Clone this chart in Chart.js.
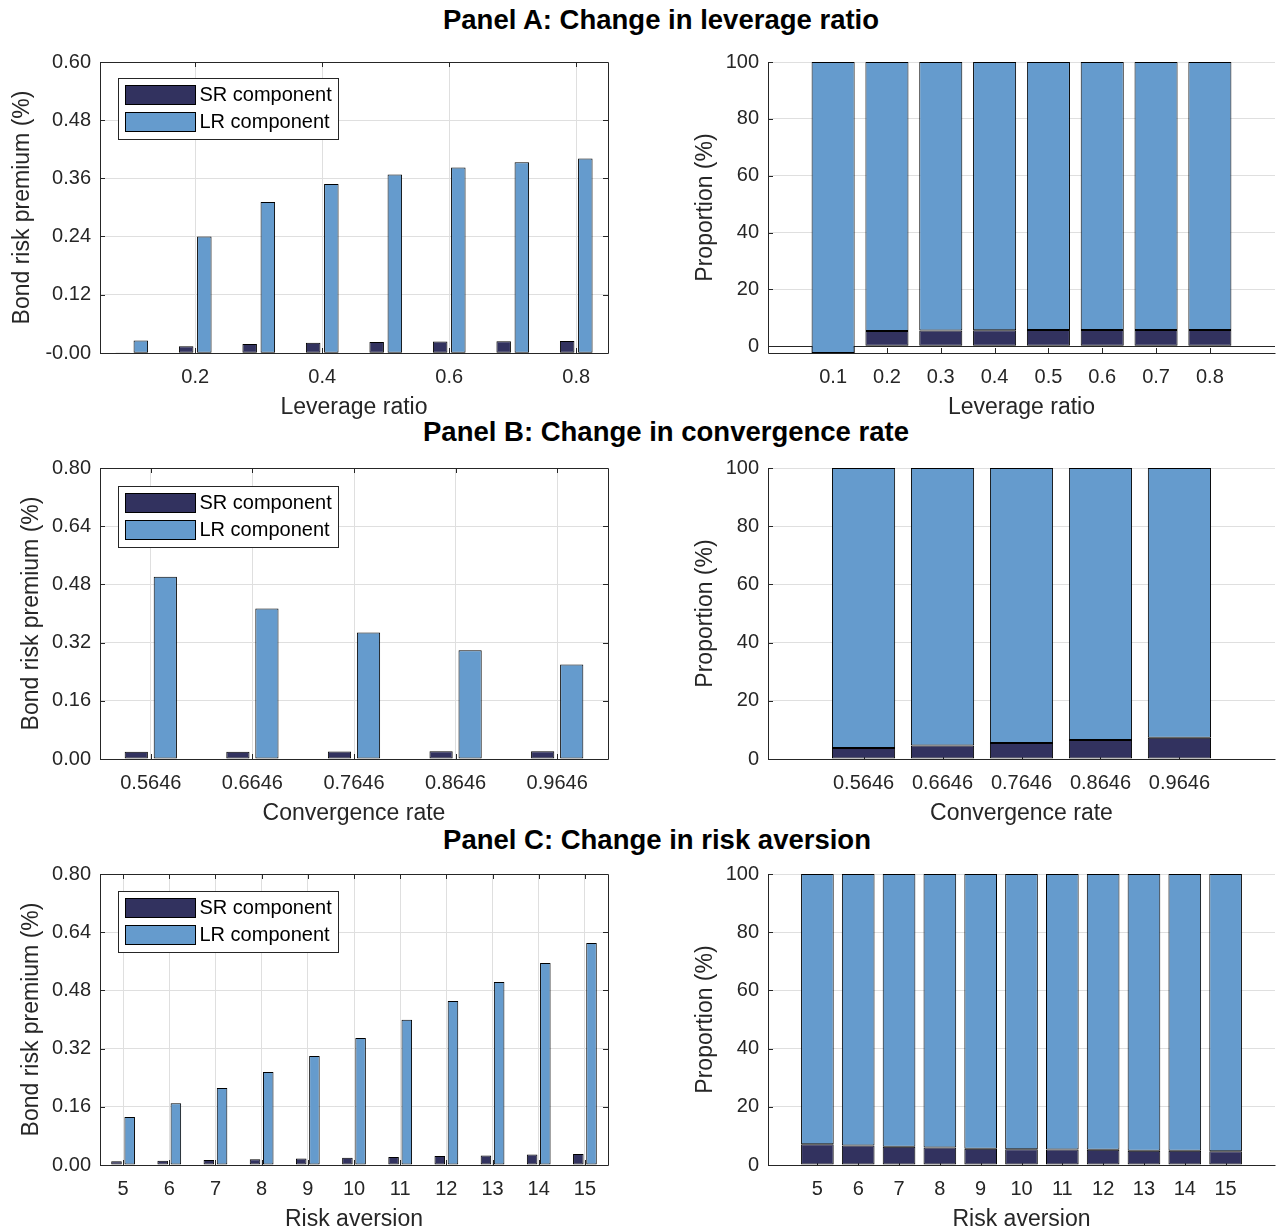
<!DOCTYPE html>
<html>
<head>
<meta charset="utf-8">
<script src="https://cdn.jsdelivr.net/npm/chart.js@4.4.1/dist/chart.umd.min.js"></script>
<style>
  body { margin: 0; background: #fff; width: 1278px; height: 1231px; position: relative; overflow: hidden;
         font-family: "Liberation Sans", Arial, sans-serif; }
  .ttl { position: absolute; font-weight: bold; font-size: 27.5px; line-height: 30px; color: #000;
         transform: translateX(-50%); white-space: nowrap; }
  canvas { position: absolute; }
</style>
</head>
<body>
<div class="ttl" style="left:661px; top:5px">Panel A: Change in leverage ratio</div>
<div class="ttl" style="left:666px; top:417px">Panel B: Change in convergence rate</div>
<div class="ttl" style="left:657px; top:825px">Panel C: Change in risk aversion</div>

<canvas id="aL" width="640" height="373" style="left:0; top:50px"></canvas>
<canvas id="aR" width="638" height="373" style="left:640px; top:50px"></canvas>
<canvas id="bL" width="640" height="373" style="left:0; top:456px"></canvas>
<canvas id="bR" width="638" height="373" style="left:640px; top:456px"></canvas>
<canvas id="cL" width="640" height="373" style="left:0; top:862px"></canvas>
<canvas id="cR" width="638" height="373" style="left:640px; top:862px"></canvas>

<script>
// Panel A: leverage ratio
const leverage = [0.1, 0.2, 0.3, 0.4, 0.5, 0.6, 0.7, 0.8];
const srA = [-0.0006, 0.0134, 0.0181, 0.0206, 0.0222, 0.0231, 0.0238, 0.0242];
const lrA = [0.025, 0.240, 0.311, 0.348, 0.368, 0.382, 0.393, 0.401];
const srShareA = [-2.4, 5.3, 5.5, 5.6, 5.7, 5.7, 5.7, 5.7];

// Panel B: convergence rate
const convergence = [0.5646, 0.6646, 0.7646, 0.8646, 0.9646];
const srB = [0.020, 0.020, 0.0205, 0.021, 0.021];
const lrB = [0.501, 0.414, 0.348, 0.299, 0.260];
const srShareB = [3.8, 4.6, 5.5, 6.5, 7.3];

// Panel C: risk aversion
const riskAversion = [5, 6, 7, 8, 9, 10, 11, 12, 13, 14, 15];
const srC = [0.010, 0.012, 0.014, 0.016, 0.018, 0.020, 0.022, 0.025, 0.026, 0.029, 0.030];
const lrC = [0.132, 0.170, 0.212, 0.256, 0.300, 0.349, 0.399, 0.451, 0.503, 0.555, 0.610];
const srShareC = [7.1, 6.7, 6.3, 6.0, 5.6, 5.4, 5.3, 5.2, 4.9, 4.9, 4.7];

// tick labels
const premiumTicksA = [-0.0006, 0.12, 0.24, 0.36, 0.48, 0.60];
const premiumTicksBC = [0, 0.16, 0.32, 0.48, 0.64, 0.80];
const shareTicks = [0, 20, 40, 60, 80, 100];
const leverageTicksLeft = [0.2, 0.4, 0.6, 0.8];

const SR_COLOR = '#32325f';
const LR_COLOR = '#659bcd';
const GRID = '#dfdfdf';
const AXIS = '#262626';

Chart.defaults.font.family = '"Liberation Sans", Arial, sans-serif';
Chart.defaults.font.size = 20;
Chart.defaults.color = AXIS;

const fixSize = size => s => {
  if (s.axis === 'x') s.height = size; else s.width = size;
  s.paddingLeft = s.paddingRight = s.paddingTop = s.paddingBottom = 0;
};
const setTicks = vals => s => { s.ticks = vals.map(v => ({ value: v })); };
const px = v => Math.round(v) + 0.5;

// MATLAB style: inner tick marks, box, baseline and the legend box
const matlabLook = {
  id: 'matlabLook',
  beforeDatasetsDraw(chart, args, o) {
    const { ctx, chartArea: a, scales: { x, y } } = chart;
    ctx.save();
    ctx.strokeStyle = AXIS;
    ctx.lineWidth = 1;
    ctx.beginPath();
    x.ticks.forEach(t => {
      const p = px(x.getPixelForValue(t.value));
      ctx.moveTo(p, a.bottom); ctx.lineTo(p, a.bottom - 5);
      if (o.box) { ctx.moveTo(p, a.top); ctx.lineTo(p, a.top + 5); }
    });
    y.ticks.forEach(t => {
      const p = px(y.getPixelForValue(t.value));
      ctx.moveTo(a.left, p); ctx.lineTo(a.left + 5, p);
      if (o.box) { ctx.moveTo(a.right, p); ctx.lineTo(a.right - 5, p); }
    });
    if (o.baseline) {
      const p = px(y.getPixelForValue(0));
      ctx.moveTo(a.left, p); ctx.lineTo(a.right, p);
    }
    ctx.stroke();
    ctx.restore();
  },
  afterDatasetsDraw(chart, args, o) {
    const { ctx, chartArea: a } = chart;
    ctx.save();
    ctx.strokeStyle = AXIS;
    ctx.lineWidth = 1;
    ctx.beginPath();
    const l = px(a.left), r = px(a.right), t = px(a.top), b = px(a.bottom);
    ctx.moveTo(l, t); ctx.lineTo(l, b); ctx.lineTo(r, b);
    if (o.box) { ctx.lineTo(r, t); ctx.lineTo(l, t); }
    ctx.stroke();

    if (o.legend) {
      const bx = px(a.left + 18), by = px(a.top + o.legendTop), w = 220, h = 61;
      ctx.fillStyle = '#fff';
      ctx.fillRect(bx, by, w, h);
      ctx.strokeRect(bx, by, w, h);
      ctx.font = '20px "Liberation Sans", Arial, sans-serif';
      ctx.textBaseline = 'middle';
      chart.data.datasets.forEach((ds, i) => {
        const sy = by + 7 + i * 27;
        ctx.fillStyle = ds.backgroundColor;
        ctx.fillRect(bx + 7, sy, 70, 19);
        ctx.strokeStyle = '#000';
        ctx.strokeRect(bx + 7, sy, 70, 19);
        ctx.fillStyle = '#000';
        ctx.fillText(ds.label, bx + 81, sy + 10);
      });
    }
    ctx.restore();
  }
};

const barStyle = { borderColor: '#000', borderWidth: 1, borderSkipped: false, inflateAmount: 0 };
const axisTitle = text => ({ display: true, text, font: { size: 23 }, padding: { top: 0, bottom: 2 } });

function premiumChart(id, xs, sr, lr, xMin, xMax, xTicks, xDec, yMin, yMax, yTicks, xTitle, titlePad, legendTop) {
  new Chart(document.getElementById(id), {
    type: 'bar',
    data: {
      datasets: [
        { label: 'SR component', data: xs.map((x, i) => ({ x, y: sr[i] })), backgroundColor: SR_COLOR,
          categoryPercentage: 0.5714, barPercentage: 0.8, ...barStyle },
        { label: 'LR component', data: xs.map((x, i) => ({ x, y: lr[i] })), backgroundColor: LR_COLOR,
          categoryPercentage: 0.5714, barPercentage: 0.8, ...barStyle }
      ]
    },
    options: {
      responsive: false, animation: false, devicePixelRatio: 1,
      layout: { padding: { top: 12, right: 32, left: 0, bottom: 0 } },
      plugins: { legend: { display: false }, tooltip: { enabled: false },
                 matlabLook: { box: true, legend: true, legendTop } },
      scales: {
        x: {
          type: 'linear', offset: false, min: xMin, max: xMax,
          afterBuildTicks: setTicks(xTicks), afterFit: fixSize(70),
          grid: { color: GRID, drawTicks: false, offset: false }, border: { display: false },
          ticks: { padding: 12, autoSkip: false, maxRotation: 0, minRotation: 0, callback: v => v.toFixed(xDec) },
          title: axisTitle(xTitle)
        },
        y: {
          min: yMin, max: yMax,
          afterBuildTicks: setTicks(yTicks), afterFit: fixSize(100),
          grid: { color: GRID, drawTicks: false }, border: { display: false },
          ticks: { padding: 9, callback: v => v.toFixed(2) },
          title: { display: true, text: 'Bond risk premium (%)', font: { size: 23 }, padding: { top: titlePad, bottom: 0 } }
        }
      }
    },
    plugins: [matlabLook]
  });
}

function shareChart(id, xs, share, step, xDec, yMin, xTitle) {
  new Chart(document.getElementById(id), {
    type: 'bar',
    data: {
      datasets: [
        { label: 'SR component', order: 1, data: xs.map((x, i) => ({ x, y: [0, share[i]] })),
          backgroundColor: SR_COLOR, grouped: false, categoryPercentage: 1, barPercentage: 0.8, ...barStyle },
        { label: 'LR component', order: 0, data: xs.map((x, i) => ({ x, y: [share[i], 100] })),
          backgroundColor: LR_COLOR, grouped: false, categoryPercentage: 1, barPercentage: 0.8, ...barStyle }
      ]
    },
    options: {
      responsive: false, animation: false, devicePixelRatio: 1,
      layout: { padding: { top: 12, right: 3, left: 0, bottom: 0 } },
      plugins: { legend: { display: false }, tooltip: { enabled: false },
                 matlabLook: { box: false, legend: false, baseline: yMin < 0 } },
      scales: {
        x: {
          type: 'linear', offset: false,
          min: xs[0] - 1.21 * step, max: xs[xs.length - 1] + 1.21 * step,
          afterBuildTicks: setTicks(xs), afterFit: fixSize(70),
          grid: { display: false, drawTicks: false }, border: { display: false },
          ticks: { padding: 12, autoSkip: false, maxRotation: 0, minRotation: 0, callback: v => v.toFixed(xDec) },
          title: axisTitle(xTitle)
        },
        y: {
          min: yMin, max: 100,
          afterBuildTicks: setTicks(shareTicks), afterFit: fixSize(128),
          grid: { color: GRID, drawTicks: false }, border: { display: false },
          ticks: { padding: 9 },
          title: { display: true, text: 'Proportion (%)', font: { size: 23 }, padding: { top: 52, bottom: 0 } }
        }
      }
    },
    plugins: [matlabLook]
  });
}

premiumChart('aL', leverage, srA, lrA, 0.05, 0.85, leverageTicksLeft, 1, -0.0006, 0.60, premiumTicksA, 'Leverage ratio', 9, 16);
shareChart('aR', leverage, srShareA, 0.1, 1, -2.4, 'Leverage ratio');

premiumChart('bL', convergence, srB, lrB, 0.5146, 1.0146, convergence, 4, 0, 0.80, premiumTicksBC, 'Convergence rate', 18, 18);
shareChart('bR', convergence, srShareB, 0.1, 4, 0, 'Convergence rate');

premiumChart('cL', riskAversion, srC, lrC, 4.5, 15.5, riskAversion, 0, 0, 0.80, premiumTicksBC, 'Risk aversion', 18, 17);
shareChart('cR', riskAversion, srShareC, 1, 0, 0, 'Risk aversion');
</script>
</body>
</html>
